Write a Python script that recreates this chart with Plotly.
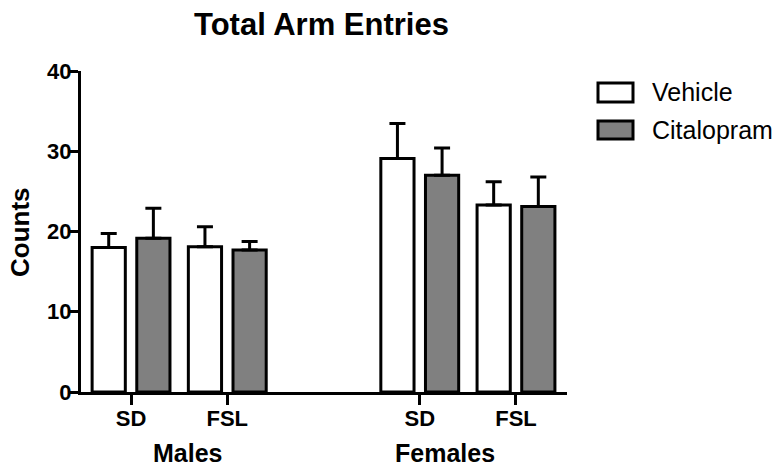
import plotly.graph_objects as go

# ---- data ----
groups = ["Males", "Females"]
strains = ["SD", "FSL", "SD", "FSL"]
positions = [0, 1, 3, 4]
vehicle = [18.0, 18.1, 29.1, 23.3]
vehicle_err = [1.75, 2.5, 4.35, 2.9]
citalopram = [19.15, 17.7, 27.0, 23.1]
citalopram_err = [3.75, 1.05, 3.4, 3.7]
series_names = ["Vehicle", "Citalopram"]
y_ticks = [0, 10, 20, 30, 40]

FONT = "Arial, 'Liberation Sans', sans-serif"
W, H = 780, 474
ML, MR, MT, MB = 81, 213, 71, 82
PW, PH = W - ML - MR, H - MT - MB


def px_x(p):
    return (p - ML) / PW


def px_y(p):
    return (H - MB - p) / PH


offset = 0.232
bw = 0.345

fig = go.Figure()
fig.add_trace(go.Bar(
    x=[p - offset for p in positions], y=vehicle, width=bw, name=series_names[0],
    marker=dict(color="white", line=dict(color="black", width=3)),
    error_y=dict(type="data", array=vehicle_err, arrayminus=[0] * 4, symmetric=False,
                 color="black", thickness=3, width=8),
    showlegend=False,
))
fig.add_trace(go.Bar(
    x=[p + offset for p in positions], y=citalopram, width=bw, name=series_names[1],
    marker=dict(color="#808080", line=dict(color="black", width=3)),
    error_y=dict(type="data", array=citalopram_err, arrayminus=[0] * 4, symmetric=False,
                 color="black", thickness=3, width=8),
    showlegend=False,
))

fig.update_layout(
    width=W, height=H,
    margin=dict(l=ML, r=MR, t=MT, b=MB, pad=0),
    paper_bgcolor="white", plot_bgcolor="white",
    barmode="overlay",
    font=dict(family=FONT, color="black"),
    xaxis=dict(
        range=[-0.52, 4.53], tickmode="array", tickvals=positions, ticktext=strains,
        showline=True, linecolor="black", linewidth=3, ticks="outside", ticklen=10,
        tickwidth=3, tickcolor="black", showgrid=False, zeroline=False,
        tickfont=dict(family=FONT, size=22, color="black", weight="bold"),
        ticklabelstandoff=-5,
    ),
    yaxis=dict(
        range=[0, 40], tickmode="array", tickvals=y_ticks,
        showline=True, linecolor="black", linewidth=3, ticks="outside", ticklen=10,
        tickwidth=3, tickcolor="black", showgrid=False, zeroline=False,
        tickfont=dict(family=FONT, size=22, color="black", weight="bold"),
        ticklabelstandoff=-8,
    ),
)

ann = []
ann.append(dict(text="<b>Total Arm Entries</b>", x=px_x(321.5), y=px_y(24), xref="paper",
                yref="paper", xanchor="center", yanchor="middle", showarrow=False,
                font=dict(family=FONT, size=31, color="black")))
ann.append(dict(text="<b>Counts</b>", x=px_x(20), y=px_y(232), xref="paper", yref="paper",
                textangle=-90, xanchor="center", yanchor="middle", showarrow=False,
                font=dict(family=FONT, size=26, color="black")))
for g, cx in zip(groups, [187.5, 445]):
    ann.append(dict(text="<b>" + g + "</b>", x=px_x(cx), y=px_y(453), xref="paper",
                    yref="paper", xanchor="center", yanchor="middle", showarrow=False,
                    font=dict(family=FONT, size=25, color="black")))

shapes = []
legend_rows = [(83, 102, "white"), (121, 139, "#808080")]
for (y0, y1, col), name in zip(legend_rows, series_names):
    shapes.append(dict(type="rect", xref="paper", yref="paper",
                       x0=px_x(598), x1=px_x(633), y0=px_y(y1), y1=px_y(y0),
                       fillcolor=col, line=dict(color="black", width=3)))
    ann.append(dict(text=name, x=px_x(650), y=px_y((y0 + y1) / 2), xref="paper",
                    yref="paper", xanchor="left", yanchor="middle", showarrow=False,
                    font=dict(family=FONT, size=25, color="black")))

fig.update_layout(annotations=ann, shapes=shapes)
fig.write_html("out.html")
